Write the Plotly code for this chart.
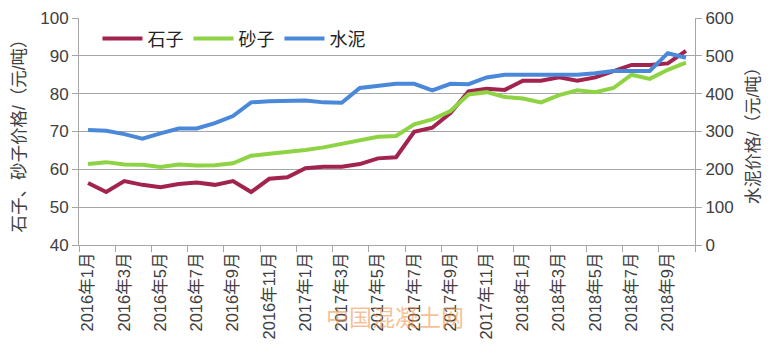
import plotly.graph_objects as go

months = [f"{y}年{m}月" for y in (2016, 2017, 2018) for m in range(1, 13)][:34]

stone = [56.4, 54.0, 56.9, 55.9, 55.3, 56.1, 56.5, 55.9, 56.9, 54.0, 57.5, 57.9,
         60.3, 60.7, 60.7, 61.4, 62.9, 63.2, 69.9, 71.0, 74.9, 80.6, 81.3, 81.0,
         83.4, 83.4, 84.3, 83.4, 84.3, 85.9, 87.6, 87.6, 88.0, 91.3]
sand = [61.4, 61.9, 61.3, 61.2, 60.6, 61.3, 61.0, 61.1, 61.6, 63.6, 64.1, 64.5,
        65.1, 65.8, 66.7, 67.8, 68.6, 68.8, 71.9, 73.2, 75.4, 79.8, 80.4, 79.1,
        78.7, 77.7, 79.6, 80.9, 80.4, 81.5, 85.0, 83.9, 86.3, 88.2]
cement = [304, 302, 293, 281, 295, 308, 308, 322, 341, 377, 380, 382,
          382, 377, 376, 415, 421, 426, 426, 409, 426, 425, 443, 450,
          450, 450, 450, 450, 454, 460, 460, 460, 507, 495]

tick_idx = list(range(0, 34, 2))
tick_text = [months[i] for i in tick_idx]

FONT = "Liberation Sans, Noto Sans CJK SC, sans-serif"
TXT = "#404040"
GRID = "#a6a6a6"

x = list(range(len(months)))
fig = go.Figure()
fig.add_trace(go.Scatter(x=x, y=stone, name="石子", mode="lines",
                         line=dict(color="#a3234f", width=4)))
fig.add_trace(go.Scatter(x=x, y=sand, name="砂子", mode="lines",
                         line=dict(color="#8ed344", width=4)))
fig.add_trace(go.Scatter(x=x, y=cement, name="水泥", mode="lines", yaxis="y2",
                         line=dict(color="#4a88d9", width=4)))

fig.update_layout(
    width=774, height=356,
    margin=dict(l=71, r=87, t=10, b=119, autoexpand=False),
    paper_bgcolor="white", plot_bgcolor="white",
    font=dict(family=FONT, color=TXT, size=17),
    showlegend=True,
    legend=dict(orientation="h", x=0.03, y=0.99, xanchor="left", yanchor="top",
                bgcolor="rgba(0,0,0,0)", font=dict(size=18, color="#222"),
                itemwidth=40, traceorder="normal"),
    xaxis=dict(range=[-0.5, 33.5], tickmode="array", tickvals=tick_idx, ticktext=tick_text,
               tickangle=-90, ticks="", showgrid=False, showline=True, linecolor=GRID,
               linewidth=1, zeroline=False, tickfont=dict(size=16.5, color=TXT), automargin=False,
               ticklabeloverflow="allow",
               minor=dict(ticks="outside", tick0=-0.5, dtick=2, ticklen=6,
                          tickcolor=GRID, tickwidth=1, showgrid=False)),
    yaxis=dict(range=[40, 100], dtick=10, showgrid=True, gridcolor=GRID, gridwidth=1,
               showline=True, linecolor=GRID, ticks="outside", ticklen=6, tickcolor=GRID,
               zeroline=False, tickfont=dict(size=17, color=TXT), automargin=False,
               ticklabeloverflow="allow",
               title=dict(text="石子、砂子价格/（元/吨）", font=dict(size=17.5, color=TXT), standoff=10)),
    yaxis2=dict(range=[0, 600], dtick=100, overlaying="y", side="right", showgrid=False,
                showline=True, linecolor=GRID, ticks="outside", ticklen=6, tickcolor=GRID,
                zeroline=False, tickfont=dict(size=17, color=TXT), automargin=False,
                ticklabeloverflow="allow",
                title=dict(text="水泥价格/（元/吨）", font=dict(size=17, color=TXT), standoff=14)),
    annotations=[dict(text="中国混凝土网", xref="paper", yref="paper", x=0.513, y=-0.32,
                      xanchor="center", yanchor="middle",
                      showarrow=False, font=dict(size=23, color="rgba(240,150,80,0.6)"))],
)

fig.write_html("out.html")
